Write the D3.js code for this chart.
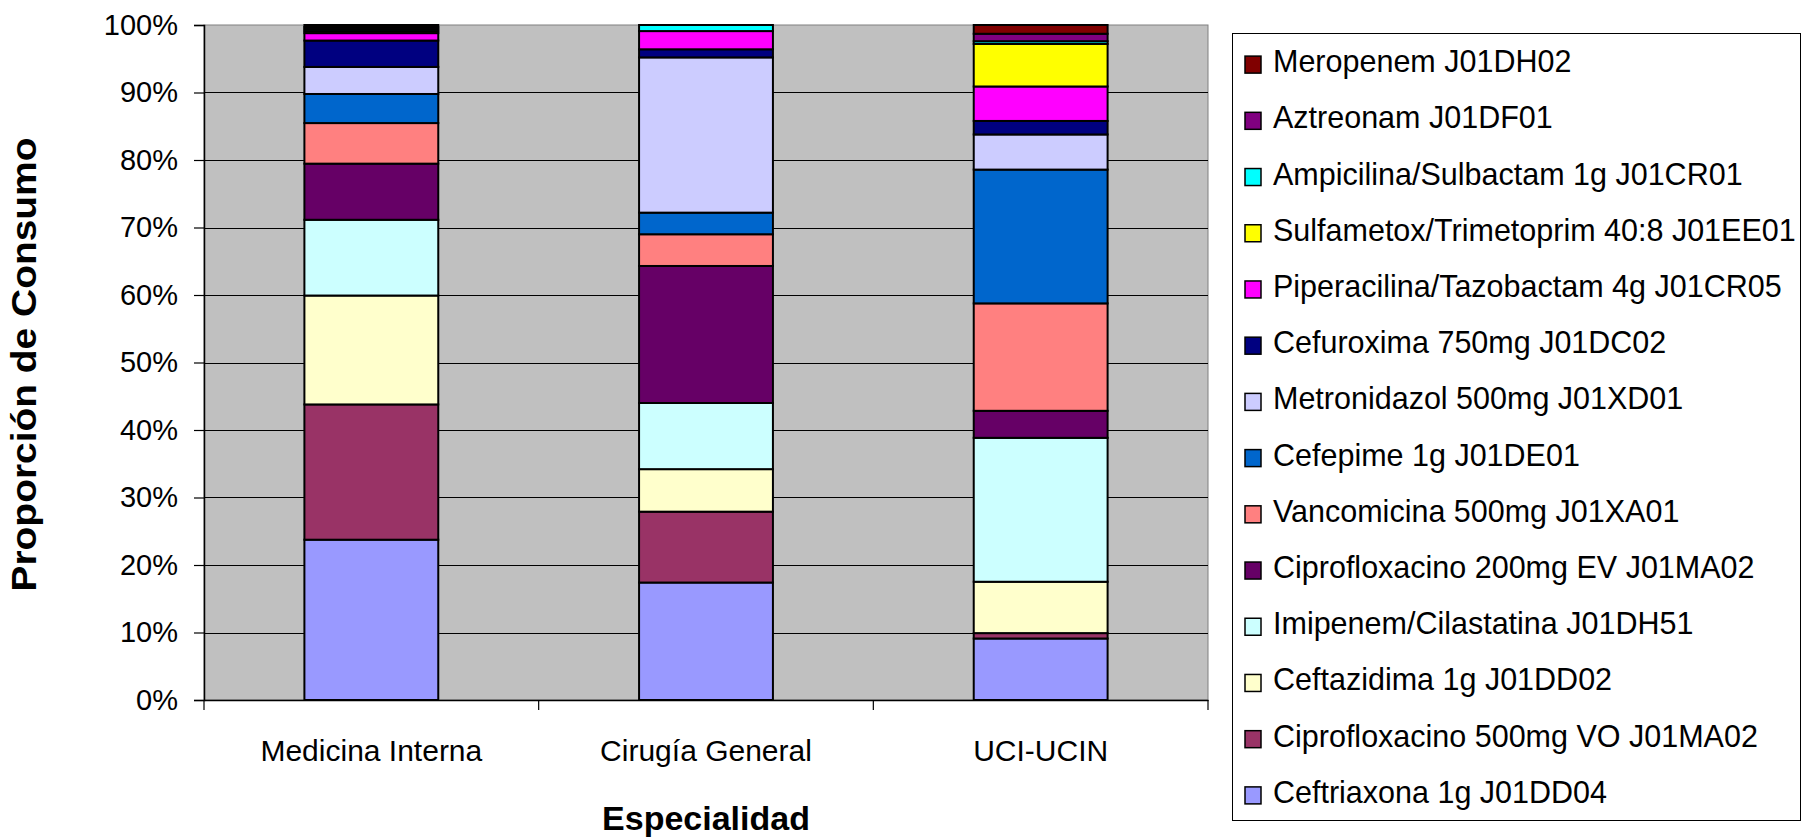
<!DOCTYPE html>
<html>
<head>
<meta charset="utf-8">
<script src="https://cdn.jsdelivr.net/npm/d3@7"></script>
<style>
  body { margin: 0; background: #fff; }
  text { font-family: "Liberation Sans", Arial, Helvetica, sans-serif; fill: #000; }
</style>
</head>
<body>
<svg id="chart" width="1803" height="840"></svg>
<script>
// Specialties on the x axis
const especialidades = ["Medicina Interna", "Cirugía General", "UCI-UCIN"];

// Antibiotics, from the bottom of each stack to the top
const antibioticos = [
  "Ceftriaxona 1g J01DD04",
  "Ciprofloxacino 500mg VO J01MA02",
  "Ceftazidima 1g J01DD02",
  "Imipenem/Cilastatina J01DH51",
  "Ciprofloxacino 200mg EV J01MA02",
  "Vancomicina 500mg J01XA01",
  "Cefepime 1g J01DE01",
  "Metronidazol 500mg J01XD01",
  "Cefuroxima 750mg J01DC02",
  "Piperacilina/Tazobactam 4g J01CR05",
  "Sulfametox/Trimetoprim 40:8 J01EE01",
  "Ampicilina/Sulbactam 1g J01CR01",
  "Aztreonam J01DF01",
  "Meropenem J01DH02"
];

// Share of consumption (%) per specialty, same order as antibioticos
const medicinaInterna = [23.7, 20.0, 16.1, 11.2, 8.3, 6.0, 4.3, 4.0, 3.9, 1.1, 0.3, 0.3, 0.3, 0.3];
const cirugiaGeneral  = [17.4, 10.5, 6.3, 9.8, 20.3, 4.7, 3.2, 23.0, 1.2, 2.7, 0, 0.9, 0, 0];
const uciUcin         = [9.1, 0.8, 7.6, 21.3, 4.0, 15.9, 19.8, 5.2, 2.0, 5.1, 6.3, 0.4, 1.1, 1.3];

// Fill colour of each antibiotic
const colores = [
  "#9999FF", "#993366", "#FFFFCC", "#CCFFFF", "#660066", "#FF8080", "#0066CC",
  "#CCCCFF", "#000080", "#FF00FF", "#FFFF00", "#00FFFF", "#800080", "#800000"
];

// Y axis tick values
const yTicks = [0, 0.1, 0.2, 0.3, 0.4, 0.5, 0.6, 0.7, 0.8, 0.9, 1.0];

// ---------------------------------------------------------------
const porEspecialidad = [medicinaInterna, cirugiaGeneral, uciUcin];
const tabla = especialidades.map((esp, i) => {
  const row = { especialidad: esp };
  antibioticos.forEach((a, j) => { row[a] = porEspecialidad[i][j]; });
  return row;
});

const svg = d3.select("#chart");
const plot = { left: 204, top: 25, right: 1208, bottom: 700 };

const x = d3.scaleBand().domain(especialidades).range([plot.left, plot.right]).padding(0);
const y = d3.scaleLinear().domain([0, 1]).range([plot.bottom, plot.top]);
const color = d3.scaleOrdinal().domain(antibioticos).range(colores);

const series = d3.stack()
  .keys(antibioticos)
  .offset(d3.stackOffsetExpand)(tabla);

// Plot area background
svg.append("rect")
  .attr("x", plot.left).attr("y", plot.top)
  .attr("width", plot.right - plot.left).attr("height", plot.bottom - plot.top)
  .attr("fill", "#C0C0C0").attr("stroke", "#808080").attr("stroke-width", 1);

// Horizontal gridlines
svg.append("g").selectAll("line")
  .data(yTicks.filter(d => d > 0 && d < 1))
  .join("line")
  .attr("x1", plot.left).attr("x2", plot.right)
  .attr("y1", d => Math.round(y(d)) + 0.5).attr("y2", d => Math.round(y(d)) + 0.5)
  .attr("stroke", "#000").attr("stroke-width", 1);

// Stacked bars
const barW = x.bandwidth() * 0.4;
svg.append("g").selectAll("g")
  .data(series)
  .join("g")
  .attr("fill", d => color(d.key))
  .selectAll("rect")
  .data(d => d.filter(s => s[1] - s[0] > 0))
  .join("rect")
  .attr("x", d => x(d.data.especialidad) + (x.bandwidth() - barW) / 2)
  .attr("y", d => y(d[1]))
  .attr("width", barW)
  .attr("height", d => y(d[0]) - y(d[1]))
  .attr("stroke", "#000")
  .attr("stroke-width", 2);

// Y axis
const yAxis = svg.append("g")
  .attr("transform", `translate(${plot.left},0)`)
  .call(d3.axisLeft(y).tickValues(yTicks).tickFormat(d3.format(".0%")).tickSize(10).tickPadding(16));
yAxis.select(".domain").attr("stroke", "#000").attr("stroke-width", 1.5);
yAxis.selectAll(".tick line").attr("stroke", "#000").attr("stroke-width", 1.2);
yAxis.selectAll("text").attr("font-size", 29).attr("font-family", "Liberation Sans, Arial, sans-serif");

// X axis: labels at band centres, ticks at band boundaries
const xAxis = svg.append("g")
  .attr("transform", `translate(0,${plot.bottom})`)
  .call(d3.axisBottom(x).tickSize(0).tickPadding(40));
xAxis.select(".domain").attr("stroke", "#000").attr("stroke-width", 1.5);
xAxis.selectAll("text").attr("font-size", 30).attr("font-family", "Liberation Sans, Arial, sans-serif");
const limites = especialidades.map(e => x(e)).concat([x.range()[1]]);
xAxis.selectAll("line.limite")
  .data(limites)
  .join("line")
  .attr("class", "limite")
  .attr("x1", d => d).attr("x2", d => d)
  .attr("y1", 0).attr("y2", 10)
  .attr("stroke", "#000").attr("stroke-width", 1.2);

// Axis titles
svg.append("text")
  .attr("x", (plot.left + plot.right) / 2)
  .attr("y", 830)
  .attr("text-anchor", "middle")
  .attr("font-size", 34)
  .attr("font-weight", "bold")
  .text("Especialidad");

svg.append("text")
  .attr("transform", `translate(36,${(plot.top + plot.bottom) / 2 + 2}) rotate(-90)`)
  .attr("text-anchor", "middle")
  .attr("font-size", 35)
  .attr("font-weight", "bold")
  .attr("textLength", 454)
  .attr("lengthAdjust", "spacingAndGlyphs")
  .text("Proporción de Consumo");

// Legend (top of the stack first)
const legendBox = { x: 1232, y: 33, w: 569, h: 787 };
svg.append("rect")
  .attr("x", legendBox.x + 0.5).attr("y", legendBox.y + 0.5)
  .attr("width", legendBox.w - 1).attr("height", legendBox.h)
  .attr("fill", "#fff").attr("stroke", "#000").attr("stroke-width", 1);

const ordenLeyenda = antibioticos.slice().reverse();
const ly = d3.scaleBand().domain(ordenLeyenda).range([legendBox.y, legendBox.y + legendBox.h]);

const items = svg.append("g").selectAll("g")
  .data(ordenLeyenda)
  .join("g")
  .attr("transform", d => `translate(0,${ly(d) + ly.bandwidth() / 2})`);

items.append("rect")
  .attr("x", 1245).attr("y", -5)
  .attr("width", 16).attr("height", 17)
  .attr("fill", d => color(d))
  .attr("stroke", "#000").attr("stroke-width", 1.5);

items.append("text")
  .attr("x", 1273)
  .attr("y", 0)
  .attr("dy", "0.36em")
  .attr("font-size", 30.5)
  .text(d => d);
</script>
</body>
</html>
